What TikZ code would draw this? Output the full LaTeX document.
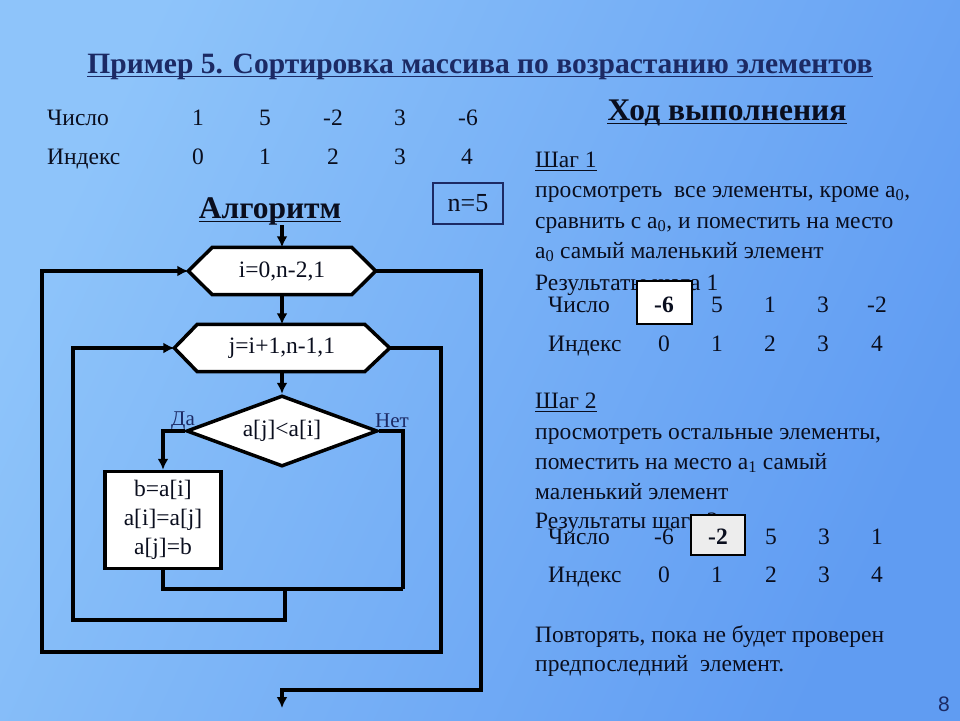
\documentclass[tikz,border=0pt]{standalone}
\usepackage{fontspec}
\setmainfont{Liberation Serif}
\newfontfamily\sansf{Liberation Sans}
\usetikzlibrary{shapes.geometric,arrows.meta}
\pgfdeclarelayer{bg}
\pgfdeclarelayer{mid}
\pgfsetlayers{bg,mid,main}
\definecolor{bgL}{RGB}{142,196,250}
\definecolor{bgD}{RGB}{96,156,242}
\definecolor{ink}{RGB}{10,14,30}
\definecolor{navy}{RGB}{28,42,100}
\definecolor{boxgray}{RGB}{237,237,237}
\newcommand{\fs}[1]{\fontsize{#1}{#1}\selectfont}
\begin{document}
\begin{tikzpicture}[x=1pt,y=-1pt,
  flow/.style={line width=3.5pt},
  arr/.style={line width=3.5pt,-{Latex[length=11pt,width=11pt]}},
  body/.style={anchor=base west,inner sep=0,font=\fs{23.5},text=ink},
  num/.style={anchor=base,inner sep=0,font=\fs{23.5},text=ink},
  bnum/.style={anchor=base,inner sep=0,font=\fs{23.5}\bfseries,text=ink},
  head/.style={anchor=base,inner sep=0,font=\fs{31.5}\bfseries,text=ink},
  hexbox/.style={rectangle,inner sep=0,minimum height=47pt,font=\fs{23.5},text=ink},
  hexline/.style={line width=3.5pt,fill=white,line join=miter},
  lab/.style={inner sep=0,font=\fs{21},text=navy},
  ul/.style={line width=1.6pt}
]
\useasboundingbox (0,0) rectangle (960,720);
\begin{pgfonlayer}{bg}
\shade[top color=bgL,bottom color=bgD,shading angle=65] (0,0) rectangle (960,720);
\end{pgfonlayer}

% Title
\node[anchor=base,inner sep=0,font=\fs{29.5}\bfseries,text=navy] (ttl) at (480,73) {Пример 5. Сортировка массива по возрастанию элементов};
\draw[ul,navy] ([yshift=-3.5pt]ttl.base west) -- ([yshift=-3.5pt]ttl.base east);

% Initial table
\node[body] (tc) at (47,125) {Число};
\node[body] (ti) at (47,164) {Индекс};
\foreach \v/\x in {1/198,5/265,-2/333,3/400,-6/468} \node[num] (ta\x) at (\x,125) {\v};
\foreach \v/\x in {0/198,1/265,2/333,3/400,4/467} \node[num] (tb\x) at (\x,164) {\v};

% Headings
\node[head] (hod) at (727,120) {Ход выполнения};
\draw[ul,ink] ([yshift=-3.5pt]hod.base west) -- ([yshift=-3.5pt]hod.base east);
\node[head] (alg) at (270,218) {Алгоритм};
\draw[ul,ink] ([yshift=-3.5pt]alg.base west) -- ([yshift=-3.5pt]alg.base east);

% n=5 box
\node[draw=navy,line width=1.3pt,minimum width=70pt,minimum height=41pt,inner sep=0,font=\fs{26},text=ink] (nbox) at (468,203.5) {n=5};

% Flowchart
\node[hexbox,minimum width=187pt] (h1) at (282,271) {i=0,n-2,1};
\node[hexbox,minimum width=215pt] (h2) at (282,348) {j=i+1,n-1,1};
\begin{pgfonlayer}{mid}
\filldraw[hexline] (h1.west) -- ([xshift=24pt]h1.north west) -- ([xshift=-24pt]h1.north east) -- (h1.east) -- ([xshift=-24pt]h1.south east) -- ([xshift=24pt]h1.south west) -- cycle;
\filldraw[hexline] (h2.west) -- ([xshift=23pt]h2.north west) -- ([xshift=-25pt]h2.north east) -- (h2.east) -- ([xshift=-25pt]h2.south east) -- ([xshift=23pt]h2.south west) -- cycle;
\end{pgfonlayer}
\node[diamond,aspect=2.69,draw,fill=white,line width=3.5pt,minimum width=191pt,minimum height=71pt,inner sep=0,font=\fs{23.5},text=ink] (dia) at (282,431) {a[j]<a[i]};
\node[draw,fill=white,line width=3.5pt,minimum width=116pt,minimum height=97pt,inner sep=0,align=center,font=\fontsize{23.5}{29}\selectfont,text=ink] (swap) at (163,520) {b=a[i]\\a[i]=a[j]\\a[j]=b};
\node[lab] (da) at (183,421) {Да};
\node[lab] (net) at (392,421) {Нет};

\coordinate (start) at (282,225);
\coordinate (nR) at (403,589);
\coordinate (m) at (285,589);
\coordinate (il) at (73,620);
\coordinate (orr) at (441,652);
\coordinate (ob) at (42,652);
\coordinate (ex) at (481,690);
\coordinate (fin) at (282,708);

\draw[arr] (start) -- (h1.north);
\draw[arr] (h1.south) -- (h2.north);
\draw[arr] (h2.south) -- (dia.north);
\draw[arr] (dia.west) -| (swap.north);
\draw[flow] (dia.east) -| (nR);
\draw[flow] (swap.south) |- (nR);
\draw[arr] (m) |- (il) |- (h2.west);
\draw[arr] (h2.east) -| (orr) -- (ob) |- (h1.west);
\draw[arr] (h1.east) -| (ex) -| (fin);

% Step 1
\node[body] (s1) at (535,167) {Шаг 1};
\draw[ul,ink,line width=1pt] ([yshift=-3pt]s1.base west) -- ([yshift=-3pt]s1.base east);
\node[body] (s1a) at (535,197) {просмотреть\ \ все элементы, кроме a\textsubscript{0},};
\node[body] (s1b) at (535,228) {сравнить с a\textsubscript{0}, и поместить на место};
\node[body] (s1c) at (535,258) {a\textsubscript{0} самый маленький элемент};
\node[body] (s1d) at (535,290) {Результаты шага 1};
\node[draw,fill=white,line width=2pt,minimum width=55pt,minimum height=43pt,inner sep=0] (b1) at (664,302) {};
\node[body] (r1c) at (548,312) {Число};
\node[body] (r1i) at (548,351) {Индекс};
\node[bnum] (r1v0) at (664,312) {-6};
\foreach \v/\x in {5/717,1/770,3/823,-2/877} \node[num] (ra\x) at (\x,312) {\v};
\foreach \v/\x in {0/664,1/717,2/770,3/823,4/877} \node[num] (rb\x) at (\x,351) {\v};

% Step 2
\node[body] (s2) at (535,408) {Шаг 2};
\draw[ul,ink,line width=1pt] ([yshift=-3pt]s2.base west) -- ([yshift=-3pt]s2.base east);
\node[body] (s2a) at (535,439) {просмотреть остальные элементы,};
\node[body] (s2b) at (535,469) {поместить на место a\textsubscript{1} самый};
\node[body] (s2c) at (535,499) {маленький элемент};
\node[body] (s2d) at (535,528) {Результаты шага 2};
\node[draw,fill=boxgray,line width=2pt,minimum width=54pt,minimum height=40pt,inner sep=0] (b2) at (718,535) {};
\node[body] (r2c) at (548,544) {Число};
\node[body] (r2i) at (548,582) {Индекс};
\node[bnum] (r2v1) at (718,544) {-2};
\foreach \v/\x in {-6/664,5/771,3/824,1/877} \node[num] (rc\x) at (\x,544) {\v};
\foreach \v/\x in {0/664,1/717,2/771,3/824,4/877} \node[num] (rd\x) at (\x,582) {\v};

% Conclusion
\node[body] (c1) at (535,642) {Повторять, пока не будет проверен};
\node[body] (c2) at (535,671) {предпоследний\ \ элемент.};
\node[anchor=base,inner sep=0,font=\sansf\fs{21},text=navy] (pg) at (944,711) {8};
\end{tikzpicture}
\end{document}
